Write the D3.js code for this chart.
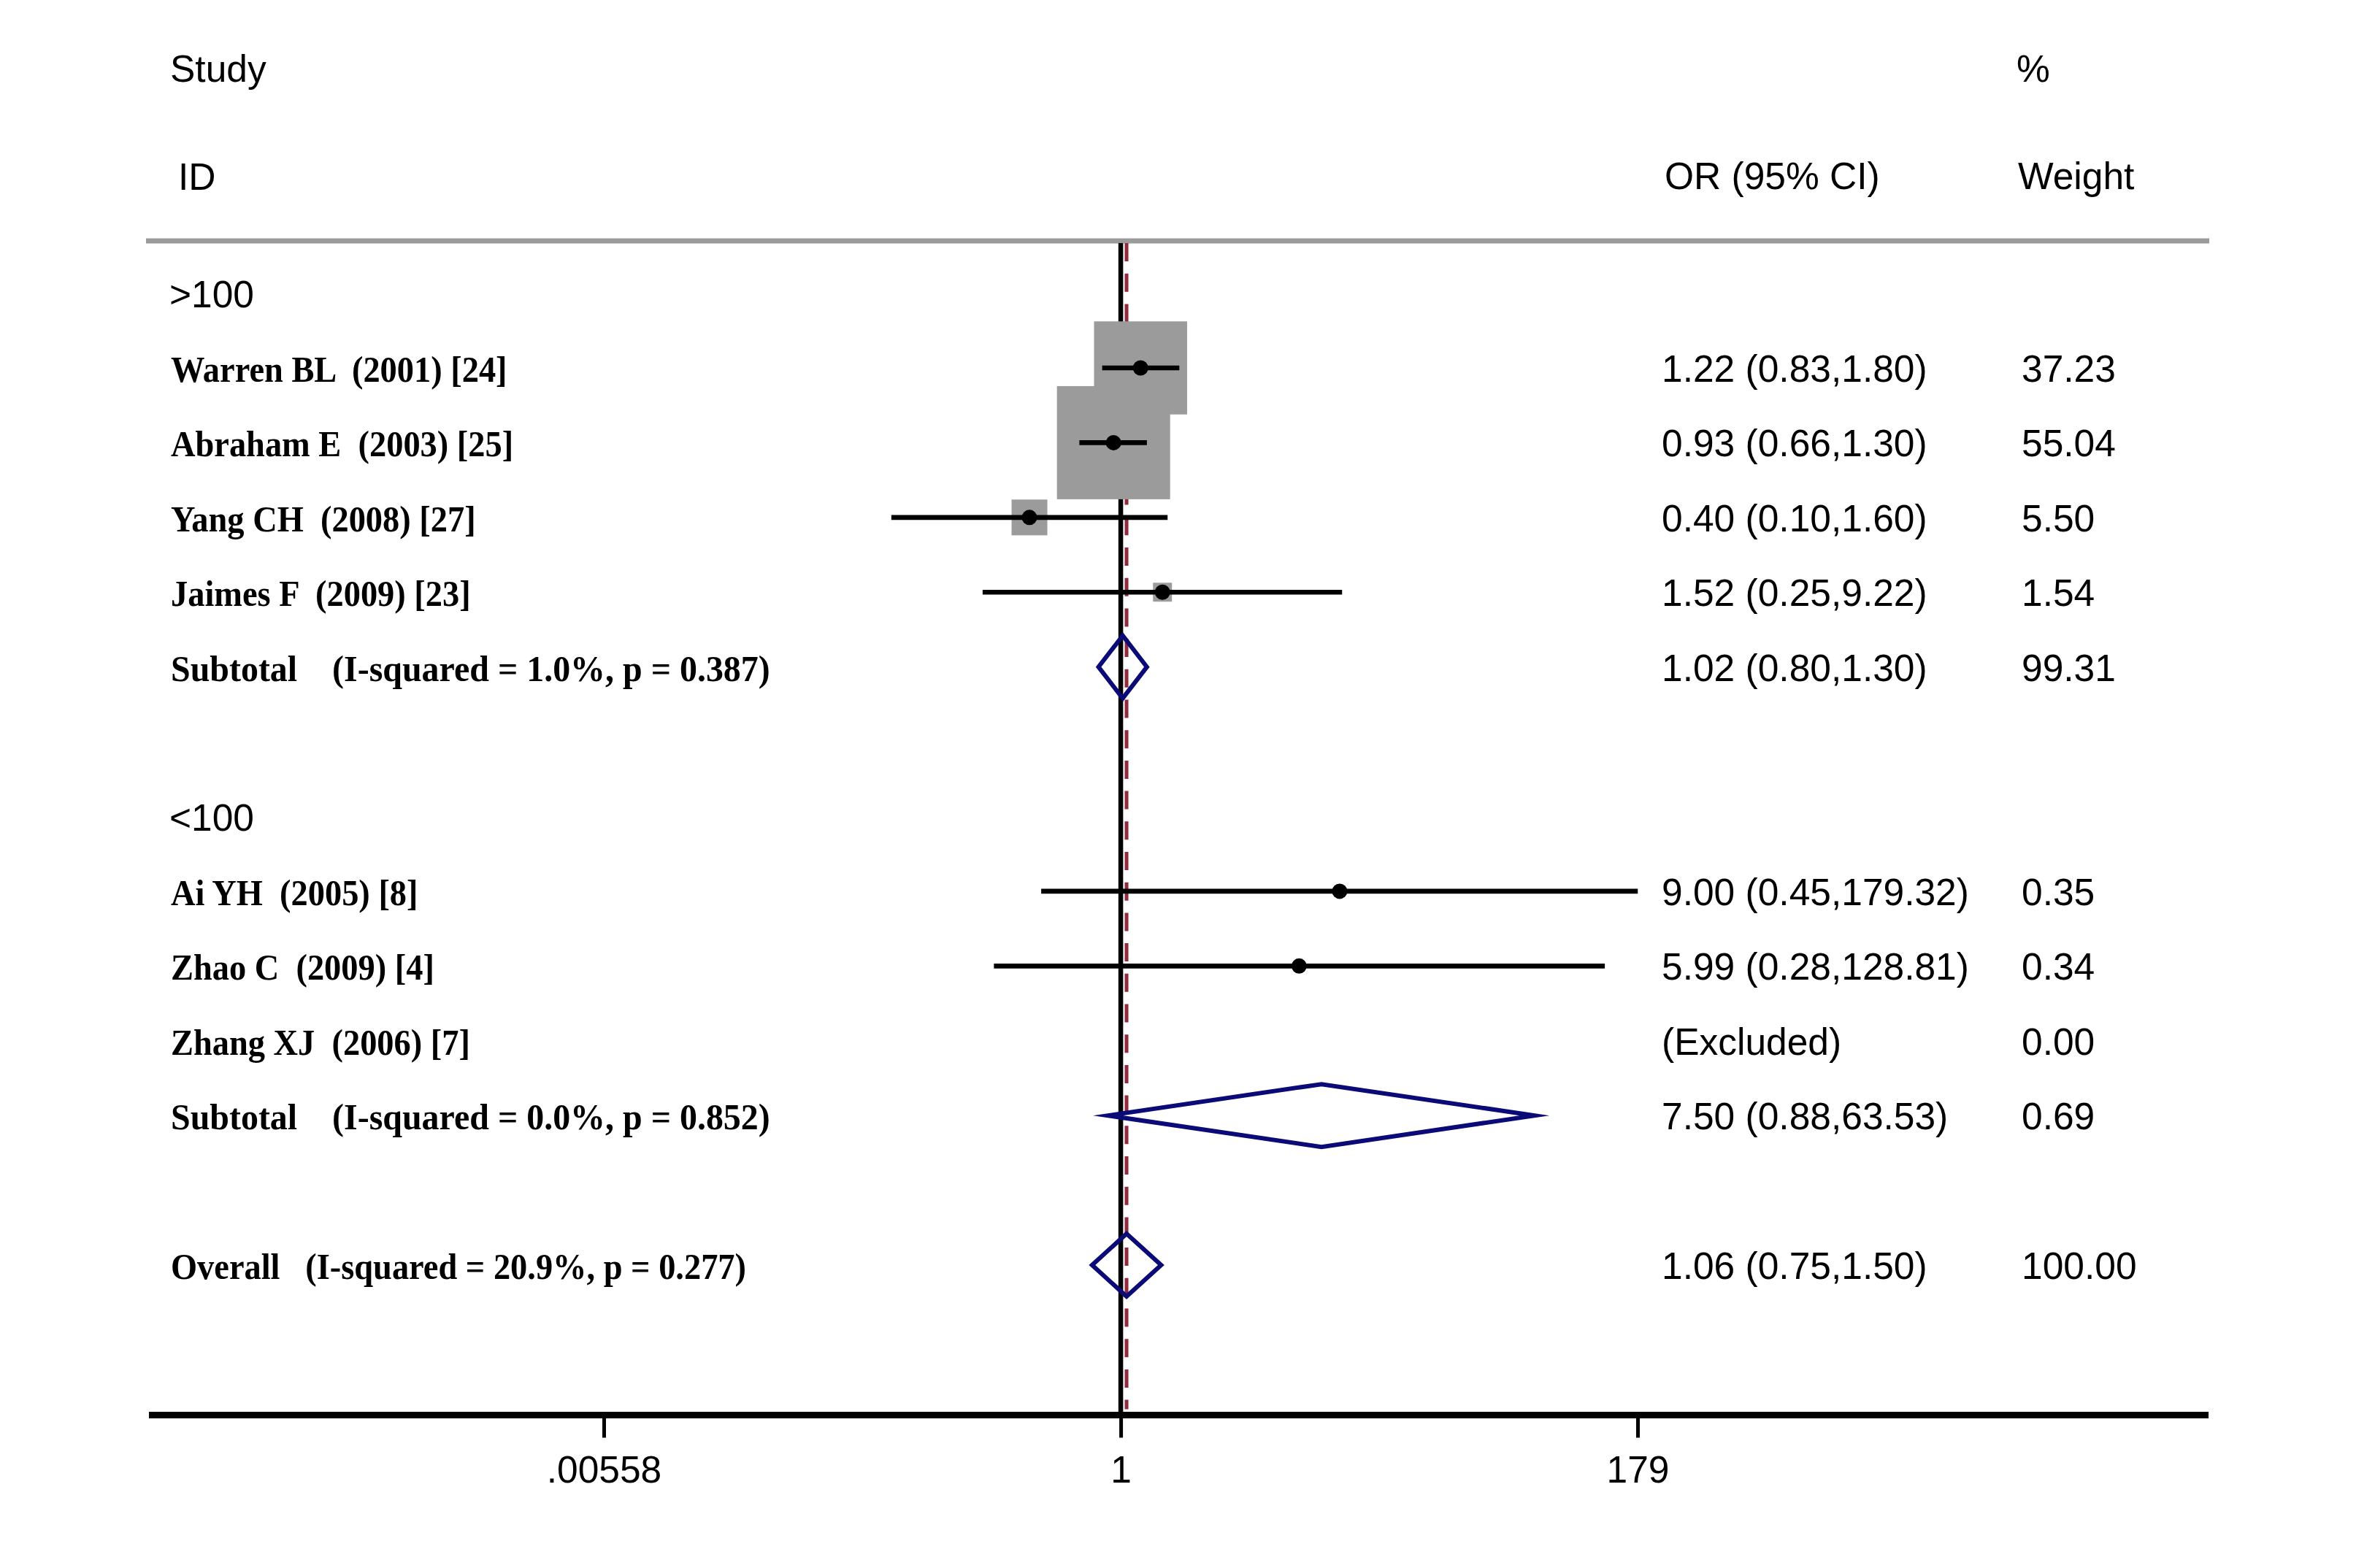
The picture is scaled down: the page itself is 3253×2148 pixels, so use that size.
<!DOCTYPE html>
<html>
<head>
<meta charset="utf-8">
<script src="https://cdn.jsdelivr.net/npm/d3@7"></script>
<style>
  html, body { margin: 0; padding: 0; background: #fff; }
  svg text { white-space: pre; }
</style>
</head>
<body>
<svg id="chart" width="3253" height="2148"></svg>
<script>
// ---------------- DATA ----------------
const rowLabels = [
  ">100",
  "Warren BL  (2001) [24]",
  "Abraham E  (2003) [25]",
  "Yang CH  (2008) [27]",
  "Jaimes F  (2009) [23]",
  "Subtotal    (I-squared = 1.0%, p = 0.387)",
  "",
  "<100",
  "Ai YH  (2005) [8]",
  "Zhao C  (2009) [4]",
  "Zhang XJ  (2006) [7]",
  "Subtotal    (I-squared = 0.0%, p = 0.852)",
  "",
  "Overall   (I-squared = 20.9%, p = 0.277)"
];
const rowTypes = ["group","study","study","study","study","pooled","blank",
                  "group","study","study","excluded","pooled","blank","overall"];
const orValues = [null, 1.22, 0.93, 0.40, 1.52, 1.02, null, null, 9.00, 5.99, null, 7.50, null, 1.06];
const ciLower  = [null, 0.83, 0.66, 0.10, 0.25, 0.80, null, null, 0.45, 0.28, null, 0.88, null, 0.75];
const ciUpper  = [null, 1.80, 1.30, 1.60, 9.22, 1.30, null, null, 179.32, 128.81, null, 63.53, null, 1.50];
const weights  = [null, 37.23, 55.04, 5.50, 1.54, 99.31, null, null, 0.35, 0.34, 0.00, 0.69, null, 100.00];
const tickValues = [0.00558, 1, 179];
const tickLabels = [".00558", "1", "179"];
const headers = { study: "Study", id: "ID", or: "OR (95% CI)", pct: "%", weight: "Weight" };

// ---------------- LAYOUT ----------------
const svg = d3.select("#chart");
const SANS = "'Liberation Sans', Arial, sans-serif";
const SERIF = "'Liberation Serif', 'Times New Roman', serif";
const fsSans = 51.5, fsSerif = 51;
const squeeze = t => (t === "pooled" ? 0.94 : 0.91);

const x = d3.scaleLog().domain([tickValues[0], tickValues[2]]).range([827, 2243]);
const y = d3.scaleLinear().domain([1, 13]).range([504, 1733]);
const box = d3.scaleSqrt().domain([0, 55.04]).range([0, 155]);

const topLineY = 330, axisY = 1938.5;
const labelX = 234, orX = 2276, wX = 2769;
const navy = "#0b0b78", maroon = "#902a3c", grey = "#9b9b9b";

svg.append("rect").attr("width", 3253).attr("height", 2148).attr("fill", "#fff");

// headers
const hdr = svg.append("g").attr("font-family", SANS).attr("font-size", fsSans).attr("fill", "#000");
hdr.append("text").attr("x", 233).attr("y", 112).text(headers.study);
hdr.append("text").attr("x", 244).attr("y", 260).text(headers.id);
hdr.append("text").attr("x", 2280).attr("y", 259).text(headers.or);
hdr.append("text").attr("x", 2762).attr("y", 112).text(headers.pct);
hdr.append("text").attr("x", 2764).attr("y", 259).text(headers.weight);

// grey header rule
svg.append("line").attr("x1", 200).attr("x2", 3026).attr("y1", topLineY).attr("y2", topLineY)
  .attr("stroke", grey).attr("stroke-width", 7);

const idx = d3.range(rowLabels.length);
const overallIdx = idx.find(i => rowTypes[i] === "overall");
const studies = idx.filter(i => rowTypes[i] === "study");
const pooled = idx.filter(i => rowTypes[i] === "pooled" || rowTypes[i] === "overall");
const rowY = i => (i === 0 ? y(1) - 102.5 : y(i));

// reference lines
svg.append("line").attr("x1", x(1)).attr("x2", x(1)).attr("y1", topLineY + 3).attr("y2", axisY - 4)
  .attr("stroke", "#000").attr("stroke-width", 6.5);
svg.append("line").attr("x1", x(orValues[overallIdx])).attr("x2", x(orValues[overallIdx]))
  .attr("y1", topLineY + 3).attr("y2", axisY - 8)
  .attr("stroke", maroon).attr("stroke-width", 5).attr("stroke-dasharray", "25,16.7");

// boxes
svg.append("g").selectAll("rect").data(studies).join("rect")
  .attr("x", i => x(orValues[i]) - box(weights[i]) / 2)
  .attr("y", i => rowY(i) - box(weights[i]) / 2)
  .attr("width", i => box(weights[i]))
  .attr("height", i => box(weights[i]))
  .attr("fill", grey);

// CI lines
svg.append("g").selectAll("line").data(studies).join("line")
  .attr("x1", i => x(ciLower[i])).attr("x2", i => x(ciUpper[i]))
  .attr("y1", i => rowY(i)).attr("y2", i => rowY(i))
  .attr("stroke", "#000").attr("stroke-width", 6.7);

// point estimates
svg.append("g").selectAll("circle").data(studies).join("circle")
  .attr("cx", i => x(orValues[i])).attr("cy", i => rowY(i)).attr("r", 10.5).attr("fill", "#000");

// diamonds
const dh = 43;
svg.append("g").selectAll("polygon").data(pooled).join("polygon")
  .attr("points", i => {
    const yy = rowY(i);
    return [[x(ciLower[i]), yy], [x(orValues[i]), yy - dh], [x(ciUpper[i]), yy], [x(orValues[i]), yy + dh]]
      .map(p => p.join(",")).join(" ");
  })
  .attr("fill", "none").attr("stroke", navy).attr("stroke-width", 6)
  .attr("stroke-linejoin", "miter").attr("stroke-miterlimit", 12);

// left labels
svg.append("g").selectAll("text").data(idx.filter(i => rowLabels[i] !== "")).join("text")
  .attr("transform", i => rowTypes[i] === "group"
    ? `translate(${labelX - 2},${rowY(i) + 19})`
    : `translate(${labelX},${rowY(i) + 19}) scale(${squeeze(rowTypes[i])},1)`)
  .attr("font-family", i => rowTypes[i] === "group" ? SANS : SERIF)
  .attr("font-weight", i => rowTypes[i] === "group" ? "normal" : "bold")
  .attr("font-size", i => rowTypes[i] === "group" ? fsSans : fsSerif)
  .text(i => rowLabels[i]);

// OR (95% CI) text and weights
const f2 = d3.format(".2f");
const valRows = idx.filter(i => rowTypes[i] !== "group" && rowTypes[i] !== "blank");
const rt = svg.append("g").attr("font-family", SANS).attr("font-size", fsSans);
rt.selectAll("text.or").data(valRows).join("text").attr("class", "or")
  .attr("x", orX).attr("y", i => rowY(i) + 19)
  .text(i => rowTypes[i] === "excluded" ? "(Excluded)"
    : `${f2(orValues[i])} (${f2(ciLower[i])},${f2(ciUpper[i])})`);
rt.selectAll("text.w").data(valRows).join("text").attr("class", "w")
  .attr("x", wX).attr("y", i => rowY(i) + 19)
  .text(i => f2(weights[i]));

// x axis
svg.append("line").attr("x1", 204).attr("x2", 3025).attr("y1", axisY).attr("y2", axisY)
  .attr("stroke", "#000").attr("stroke-width", 9);
const axis = d3.axisBottom(x).tickValues(tickValues).tickSize(31)
  .tickFormat((d, i) => tickLabels[i]);
const ax = svg.append("g").attr("transform", `translate(0,${axisY})`).call(axis);
ax.select(".domain").remove();
ax.selectAll(".tick line").attr("stroke", "#000").attr("stroke-width", 5);
ax.selectAll(".tick text").attr("font-family", SANS).attr("font-size", fsSans)
  .attr("fill", "#000").attr("y", 92).attr("dy", 0);
</script>
</body>
</html>
